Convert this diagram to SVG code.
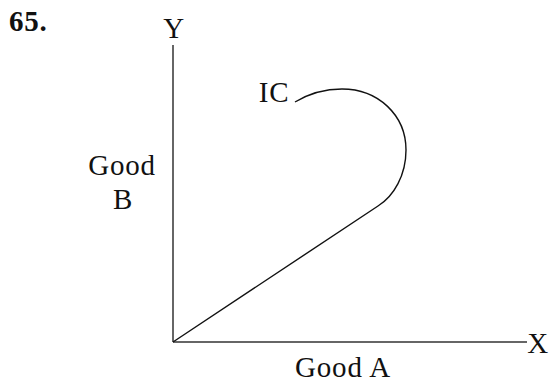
<svg xmlns="http://www.w3.org/2000/svg" width="550" height="383" viewBox="0 0 550 383">
<style>
.t{font-family:"Liberation Serif","DejaVu Serif",serif;font-size:29px;letter-spacing:0.8px;fill:#111}
.ax{stroke:#333;stroke-width:1.5;fill:none}
.cv{stroke:#111;stroke-width:1.4;fill:none}
</style>
<rect width="550" height="383" fill="#fff"/>
<text class="t" x="9" y="31" style="font-weight:bold;font-size:29px">65.</text>
<g id="axes">
<line class="ax" x1="173" y1="45" x2="173" y2="342"/>
<line class="ax" x1="173" y1="342" x2="527" y2="342"/>
</g>
<g id="labels">
<text class="t" x="174" y="38" text-anchor="middle">Y</text>
<text class="t" x="538" y="353" text-anchor="middle">X</text>
<text class="t" x="122" y="175" text-anchor="middle">Good</text>
<text class="t" x="123" y="209" text-anchor="middle">B</text>
<text class="t" x="343" y="377" text-anchor="middle">Good A</text>
<text class="t" x="274" y="102" text-anchor="middle">IC</text>
</g>
<g id="connectors">
<path class="cv" d="M295,102 C310,93 325,89 342,89 C378,89 406,115 406,150 C406,175 394,196 378,206 L173,342"/>
</g>
</svg>
